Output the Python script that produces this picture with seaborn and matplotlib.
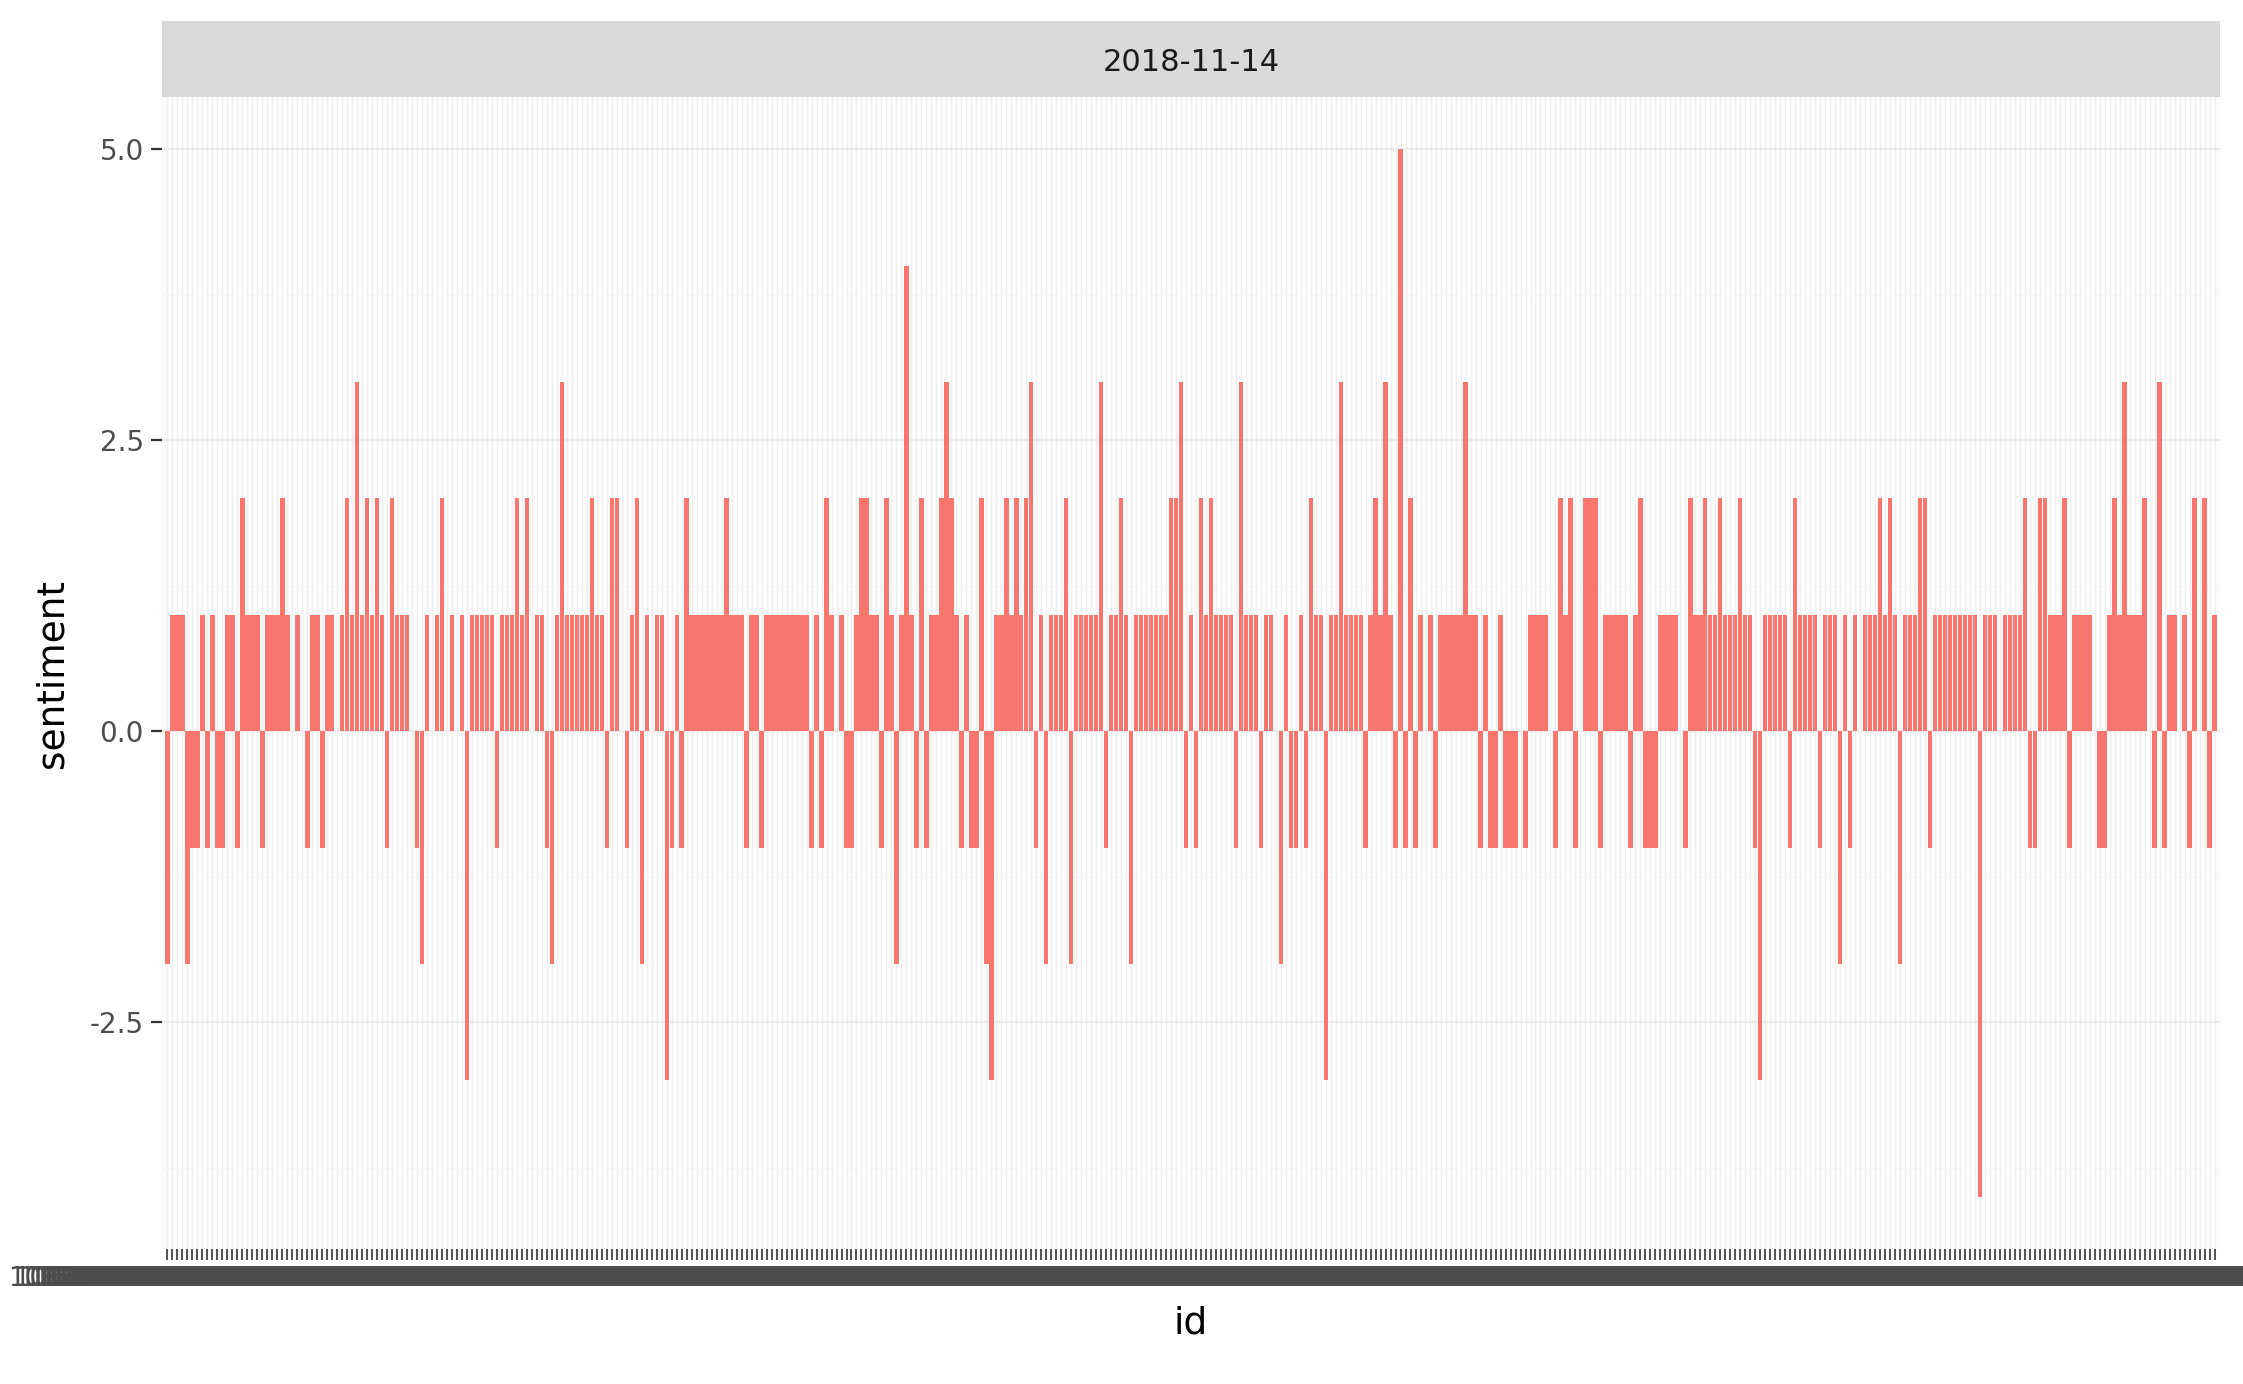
import matplotlib
matplotlib.use("Agg")
import matplotlib.pyplot as plt
import seaborn as sns
import pandas as pd
import numpy as np

facet_date = "2018-11-14"
part1 = [-2,1,1,1,-2,-1,-1,1,-1,1,-1,-1,1,1,-1,2,1,1,1,-1,1,1,1,2,1,0,1,0,-1,1,1,-1,1,1,0,1,2,1,3,1,2,1,2,1,-1,2,1,1,1,0,-1,-2]
part2 = [1,0,1,2,0,1,0,1,-3,1,1,1,1,1,-1,1,1,1,2,1,2,0,1,1,-1,-2,1,3,1,1,1,1,1,2,1,1,-1,2,2,0,-1,1,2,-2,1,0,1,1,-3,-1]
part3 = [1,-1,2,1,1,1,1,1,1,1,2,1,1,1,-1,1,1,-1,1,1,1,1,1,1,1,1,1,-1,1,-1,2,1,0,1,-1,-1,1,2,2,1,1,-1,2,1,-2,1,4,1,-1,2]
part4 = [-1,1,1,2,3,2,1,-1,1,-1,-1,2,-2,-3,1,1,2,1,2,1,2,3,-1,1,-2,1,1,1,2,-2,1,1,1,1,1,3,-1,1,1,2,1,-2,1,1,1,1,1,1,1,2]
part5 = [2,3,-1,1,-1,2,1,2,1,1,1,1,-1,3,1,1,1,-1,1,1,0,-2,1,-1,-1,1,-1,2,1,1,-3,1,1,3,1,1,1,1,-1,1,2,1,3,1,-1,5,-1,2,-1,1]
part6 = [0,1,-1,1,1,1,1,1,3,1,1,-1,1,-1,-1,1,-1,-1,-1,0,-1,1,1,1,1,0,-1,2,1,2,-1,0,2,2,2,-1,1,1,1,1,1,-1,1,2,-1,-1,-1,1,1,1]
part7 = [1,0,-1,2,1,1,2,1,1,2,1,1,1,2,1,1,-1,-3,1,1,1,1,1,-1,2,1,1,1,1,-1,1,1,1,-2,1,-1,1,0,1,1,1,2,1,2,1,-2,1,1,1,2]
part8 = [2,-1,1,1,1,1,1,1,1,1,1,-4,1,1,1,0,1,1,1,1,2,-1,-1,2,2,1,1,1,2,-1,1,1,1,1,0,-1,-1,1,2,1,3,1,1,1,2,0,-1,3,-1,1,1,0,1,-1,2,0,2,-1,1]

sentiment = part1 + part2 + part3 + part4 + part5 + part6 + part7 + part8
ids = [str(1062950000000000000 + 1371 * i) for i in range(len(sentiment))]
df = pd.DataFrame({"id": ids, "sentiment": sentiment})

W, H = 2243, 1384
fig = plt.figure(figsize=(W / 100, H / 100), dpi=100)
L, R, T, B = 162, 2220, 97, 1249
ax = fig.add_axes([L / W, 1 - B / H, (R - L) / W, (B - T) / H])
ax.set_facecolor("#FCFCFC")

n = len(sentiment)
for i in range(n):
    ax.axvline(i, color="#EFEFEF", lw=1.0, zorder=0)
for yv in [-2.5, 0, 2.5, 5.0]:
    ax.axhline(yv, color="#EBEBEB", lw=1.5, zorder=0)
for yv in [-3.75, -1.25, 1.25, 3.75]:
    ax.axhline(yv, color="#F5F5F5", lw=1.0, zorder=0)

sns.barplot(data=df, x="id", y="sentiment", color="#F8766D", saturation=1,
            width=0.9, order=ids, ax=ax, errorbar=None, zorder=2)

ax.set_xlim(-0.5 - 0.6, n - 0.5 + 0.6)
ax.set_ylim(-4.45, 5.45)
ax.set_yticks([-2.5, 0, 2.5, 5.0])
ax.set_yticklabels(["-2.5", "0.0", "2.5", "5.0"], fontsize=20, color="#4D4D4D")
ax.set_xticks(range(n))
ax.set_xticklabels(ids, fontsize=19, color="#4D4D4D")
ax.tick_params(axis="x", length=8, width=1.2, color="#333333", pad=4)
ax.tick_params(axis="y", length=8, width=1.6, color="#333333", pad=5)
for s in ax.spines.values():
    s.set_visible(False)
ax.grid(False)
ax.set_xlabel("id", fontsize=27, labelpad=10)
ax.set_ylabel("sentiment", fontsize=27, labelpad=14)

strip = fig.add_axes([L / W, 1 - T / H, (R - L) / W, 76 / H])
strip.set_facecolor("#D9D9D9")
strip.set_xticks([]); strip.set_yticks([])
for s in strip.spines.values():
    s.set_visible(False)
strip.text(0.5, 0.45, facet_date, ha="center", va="center", fontsize=22, color="#1A1A1A",
           transform=strip.transAxes)

fig.savefig("out.png", dpi=100)
